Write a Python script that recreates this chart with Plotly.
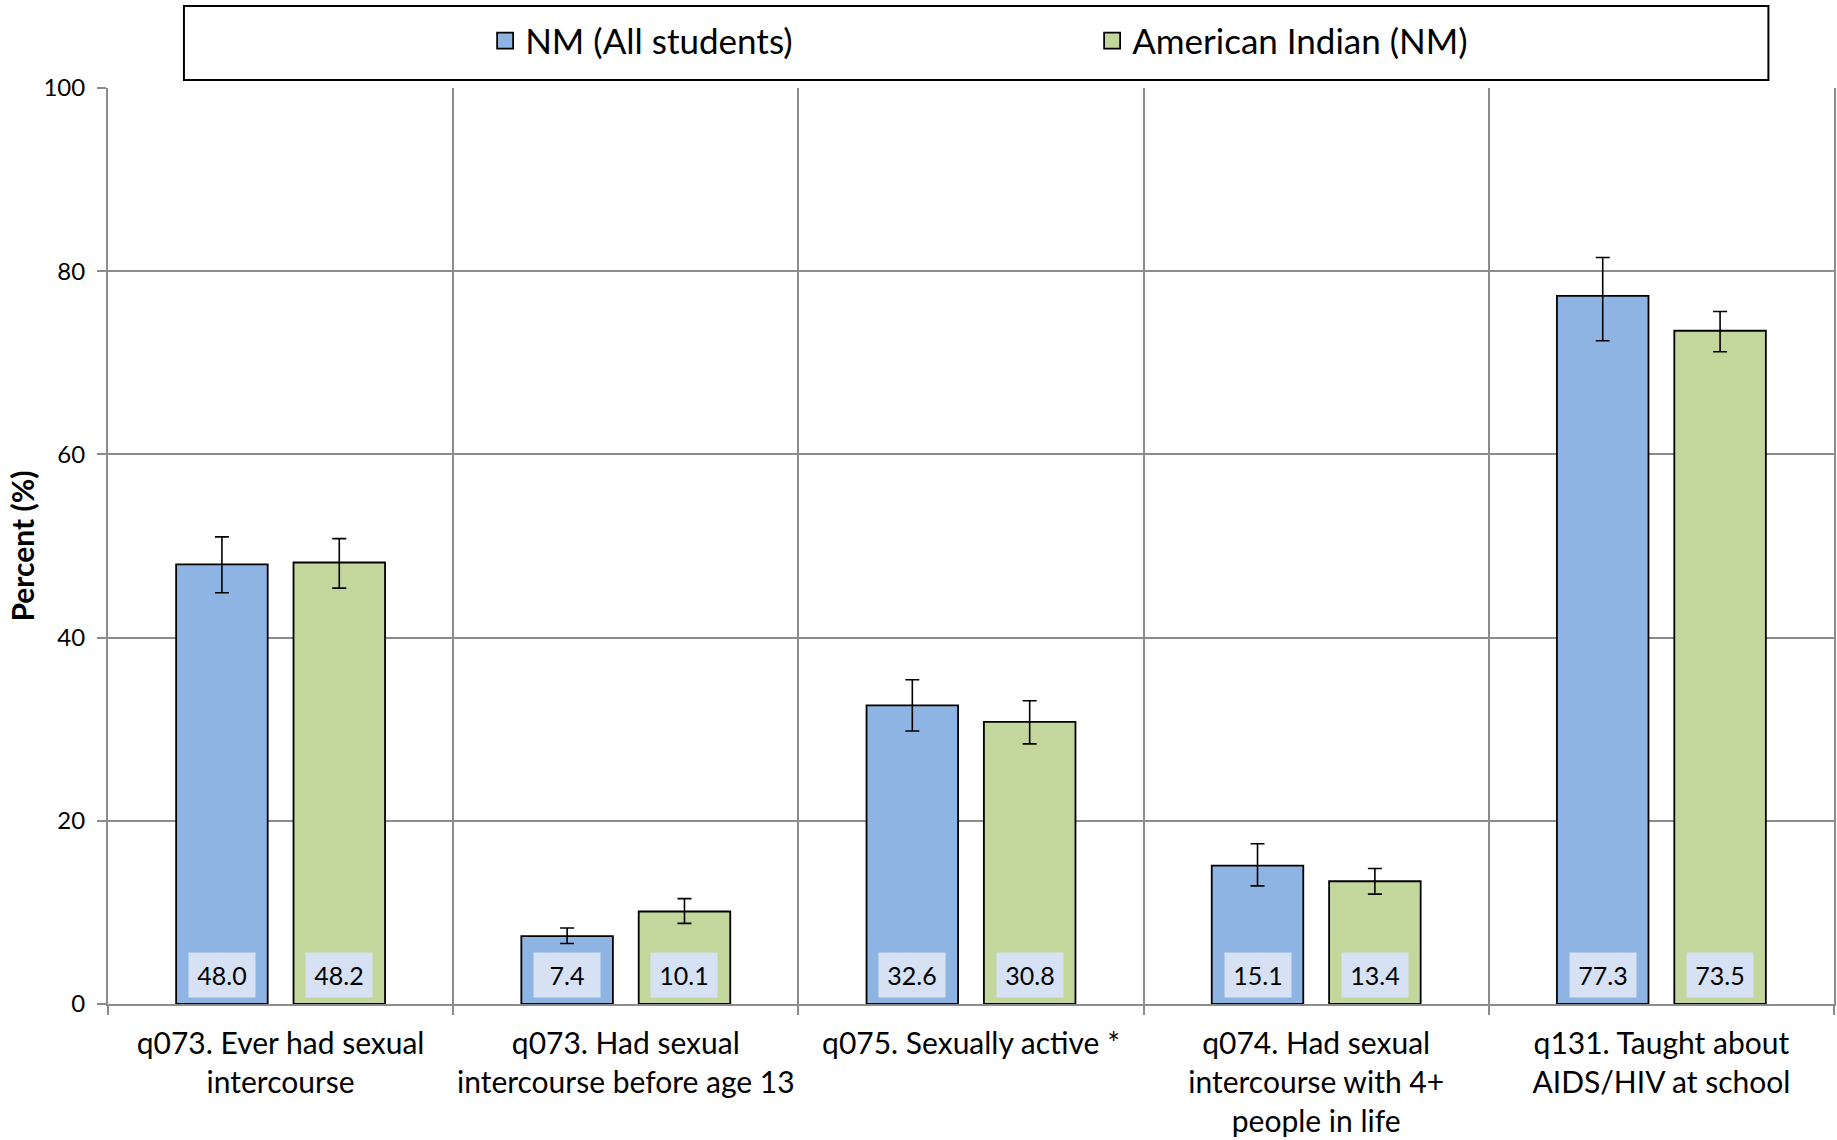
import plotly.graph_objects as go

categories = [
    "q073. Ever had sexual<br>intercourse",
    "q073. Had sexual<br>intercourse before age 13",
    "q075. Sexually active *",
    "q074. Had sexual<br>intercourse with 4+<br>people in life",
    "q131. Taught about<br>AIDS/HIV at school",
]
series_names = ["NM (All students)", "American Indian (NM)"]

nm_values = [48.0, 7.4, 32.6, 15.1, 77.3]
nm_upper = [51.0, 8.3, 35.4, 17.5, 81.5]
nm_lower = [44.9, 6.6, 29.8, 12.9, 72.4]

ai_values = [48.2, 10.1, 30.8, 13.4, 73.5]
ai_upper = [50.8, 11.5, 33.1, 14.8, 75.6]
ai_lower = [45.4, 8.8, 28.4, 12.0, 71.2]

y_ticks = [0, 20, 40, 60, 80, 100]

BLUE = "#8EB4E3"
GREEN = "#C3D69B"
FONT = "Lato"
BARGAP = 0.32
BARGROUPGAP = 0.22

fig = go.Figure()

def add_series(name, vals, up, lo, color):
    fig.add_trace(go.Bar(
        x=categories, y=vals, name=name, legendgroup=name, showlegend=False,
        marker=dict(color=color, line=dict(color="black", width=1.8)),
        error_y=dict(type="data", symmetric=False,
                     array=[u - v for u, v in zip(up, vals)],
                     arrayminus=[v - l for v, l in zip(vals, lo)],
                     color="black", thickness=1.6, width=7),
        hoverinfo="x+y",
    ))
    # legend proxy with larger square symbol
    fig.add_trace(go.Scatter(
        x=[None], y=[None], mode="markers", name=name, legendgroup=name,
        marker=dict(symbol="square", size=21, color=color,
                    line=dict(color="black", width=1.8)),
    ))

add_series(series_names[0], nm_values, nm_upper, nm_lower, BLUE)
add_series(series_names[1], ai_values, ai_upper, ai_lower, GREEN)

# data labels at the bottom of each bar
offset = (1 - BARGAP) / 4
for i in range(len(categories)):
    for vals, sign in ((nm_values, -1), (ai_values, 1)):
        fig.add_annotation(
            x=i + sign * offset, y=0, xref="x", yref="y",
            text=f"{vals[i]:.1f}", showarrow=False,
            yanchor="bottom", yshift=6,
            width=64, height=42, bgcolor="#d6e1f4",
            font=dict(family=FONT, size=25, color="black"),
        )

# legend frame
fig.add_shape(type="rect", xref="paper", yref="paper",
              x0=0.044, x1=0.962, y0=1.0087, y1=1.0895,
              line=dict(color="black", width=2), fillcolor="white", layer="below")

fig.update_layout(
    width=1837, height=1140,
    margin=dict(l=108, r=3, t=88, b=136, autoexpand=False),
    paper_bgcolor="white", plot_bgcolor="white",
    barmode="group", bargap=BARGAP, bargroupgap=BARGROUPGAP,
    font=dict(family=FONT, color="black"),
    legend=dict(orientation="h", x=0.2185, xanchor="left", y=1.0515, yanchor="middle",
                font=dict(family=FONT, size=35), bgcolor="rgba(0,0,0,0)",
                entrywidth=562, entrywidthmode="pixels", itemclick="toggle"),
    xaxis=dict(
        type="category", range=[-0.5, 4.5], tickson="boundaries",
        showgrid=True, gridcolor="#8c8c8c", gridwidth=1.5,
        showline=True, linecolor="#8c8c8c", linewidth=2,
        ticks="outside", ticklen=9, tickcolor="#8c8c8c", tickwidth=1.5,
        tickfont=dict(family=FONT, size=30, color="black"),
        tickangle=0, automargin=False,
        ticklabelstandoff=12,
    ),
    yaxis=dict(
        range=[0, 100], tickvals=y_ticks, ticktext=[str(t) for t in y_ticks],
        showgrid=True, gridcolor="#8c8c8c", gridwidth=1.5,
        showline=True, linecolor="#8c8c8c", linewidth=2, mirror=True,
        ticks="outside", ticklen=9, tickcolor="#8c8c8c", tickwidth=1.5,
        tickfont=dict(family=FONT, size=24, color="black"),
        ticklabelstandoff=7,
        zeroline=False, automargin=False,
        title=dict(text="<b>Percent (%)</b>", font=dict(family=FONT, size=30), standoff=0),
    ),
)

fig.write_html("out.html", config={"displayModeBar": False},
               post_script="document.body.style.margin='0';")
